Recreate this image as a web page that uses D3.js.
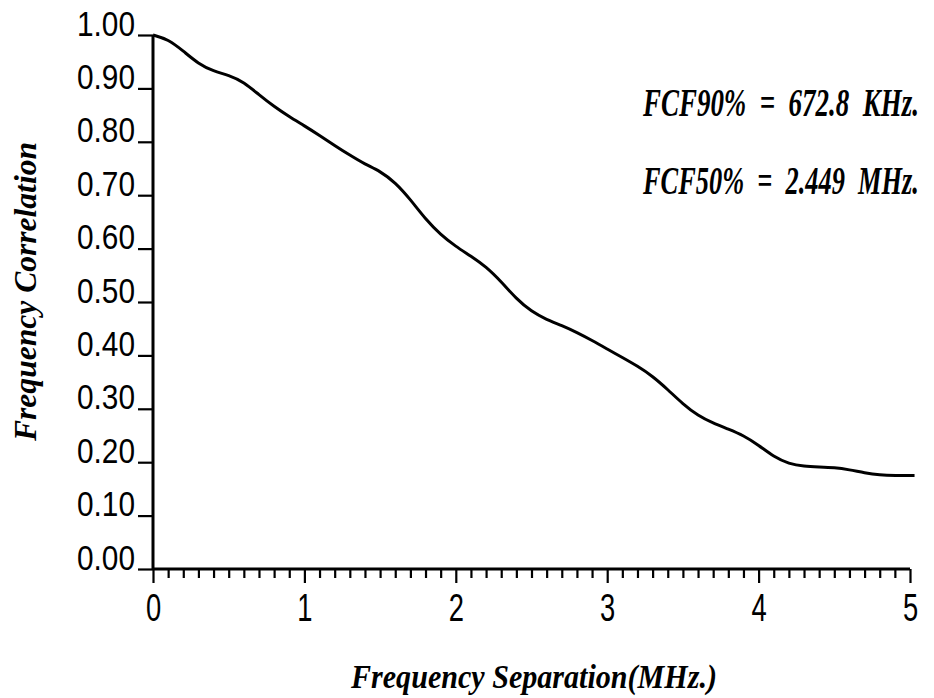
<!DOCTYPE html>
<meta charset="utf-8">
<style>
	body { margin: 0; background: #fff; }
	.tick-label { font-family: "Liberation Sans", "DejaVu Sans", sans-serif; fill: #000; }
	.title { font-family: "Liberation Serif", "DejaVu Serif", serif; font-weight: bold; font-style: italic; fill: #000; white-space: pre; }
</style>
<script src="https://d3js.org/d3.v7.min.js"></script>

<body>
	<div id="chart"></div>

	<script>

		// frequency separation (MHz) and correlation
		var sep = [0, 0.1, 0.2, 0.3, 0.4, 0.5, 0.6, 0.7, 0.8, 0.9,
		           1.0, 1.1, 1.2, 1.3, 1.4, 1.5, 1.6, 1.7, 1.8, 1.9,
		           2.0, 2.1, 2.2, 2.3, 2.4, 2.5, 2.6, 2.7, 2.8, 2.9,
		           3.0, 3.1, 3.2, 3.3, 3.4, 3.5, 3.6, 3.7, 3.8, 3.9,
		           4.0, 4.1, 4.2, 4.3, 4.4, 4.5, 4.6, 4.7, 4.8, 4.9, 5.03];
		var corr = [1.000, 0.992, 0.970, 0.946, 0.932, 0.925, 0.912, 0.888, 0.866, 0.847,
		            0.830, 0.812, 0.793, 0.775, 0.758, 0.745, 0.724, 0.692, 0.655, 0.626,
		            0.604, 0.586, 0.566, 0.538, 0.506, 0.482, 0.467, 0.456, 0.443, 0.428,
		            0.412, 0.396, 0.380, 0.361, 0.336, 0.309, 0.287, 0.273, 0.262, 0.250,
		            0.232, 0.210, 0.197, 0.192, 0.191, 0.190, 0.186, 0.180, 0.176, 0.175, 0.175];

		var xTicks = [0, 1, 2, 3, 4, 5];
		var xMinor = d3.range(0, 50).map(function(i) { return i / 10; }).filter(function(v) { return v % 1 !== 0; });
		var yTicks = [0, 0.1, 0.2, 0.3, 0.4, 0.5, 0.6, 0.7, 0.8, 0.9, 1.0];

		var notes = ["FCF90%  =  672.8  KHz.", "FCF50%  =  2.449  MHz."];

		var width = 934,
		    height = 698;

		var svg = d3.select("#chart")
					.append("svg")
						.attr("width", width)
						.attr("height", height);

		var x = d3.scaleLinear().domain([0, 5]).range([153, 910]);
		var y = d3.scaleLinear().domain([0, 1]).range([569, 35]);

		// y axis
		var gy = svg.append("g")
			.attr("transform", "translate(" + x(0) + ",0)")
			.call(d3.axisLeft(y).tickValues(yTicks).tickSize(15).tickPadding(3)
				.tickFormat(d3.format(".2f")));
		gy.select(".domain").attr("stroke-width", 3).attr("d", "M0," + y(1) + "V" + y(0));
		gy.selectAll(".tick line").attr("stroke-width", 2.2);
		gy.selectAll(".tick text")
			.attr("class", "tick-label")
			.attr("dy", 0)
			.attr("font-family", null)
			.attr("font-size", 35)
			.attr("textLength", 58)
			.attr("lengthAdjust", "spacingAndGlyphs");

		// x axis minor ticks
		var gm = svg.append("g")
			.attr("transform", "translate(0," + y(0) + ")")
			.call(d3.axisBottom(x).tickValues(xMinor).tickSize(9).tickFormat(""));
		gm.select(".domain").remove();
		gm.selectAll(".tick line").attr("stroke-width", 2.2);

		// x axis major ticks
		var gx = svg.append("g")
			.attr("transform", "translate(0," + y(0) + ")")
			.call(d3.axisBottom(x).tickValues(xTicks).tickSize(14).tickFormat(d3.format("d")));
		gx.select(".domain").attr("stroke-width", 3).attr("d", "M" + x(0) + ",0H" + x(5));
		gx.selectAll(".tick line").attr("stroke-width", 2.2);
		gx.selectAll(".tick text")
			.attr("class", "tick-label")
			.attr("y", 52)
			.attr("dy", 0)
			.attr("font-family", null)
			.attr("font-size", 38)
			.attr("transform", "scale(0.72,1)");

		// curve
		var line = d3.line()
			.x(function(d, i) { return x(sep[i]); })
			.y(function(d) { return y(d); })
			.curve(d3.curveBasis);

		svg.append("path")
			.datum(corr)
			.attr("d", line)
			.attr("fill", "none")
			.attr("stroke", "#000")
			.attr("stroke-width", 3)
			.attr("stroke-linejoin", "round");

		// axis titles
		svg.append("text")
			.attr("class", "title")
			.attr("x", 351)
			.attr("y", 688)
			.attr("font-size", 33)
			.attr("textLength", 366)
			.attr("lengthAdjust", "spacingAndGlyphs")
			.text("Frequency Separation(MHz.)");

		svg.append("text")
			.attr("class", "title")
			.attr("transform", "translate(36,441) rotate(-90)")
			.attr("font-size", 31)
			.attr("textLength", 299)
			.attr("lengthAdjust", "spacingAndGlyphs")
			.text("Frequency Correlation");

		// annotations, squeezed horizontally to the width they take in the plot
		svg.selectAll(".note")
			.data(notes)
			.enter()
			.append("text")
				.attr("class", "title note")
				.attr("font-size", 40)
				.text(function(d) { return d; })
				.attr("transform", function(d, i) {
					var k = 276 / this.getComputedTextLength();
					return "translate(643," + (116 + i * 78) + ") scale(" + k + ",1)";
				});

	</script>

</body>
